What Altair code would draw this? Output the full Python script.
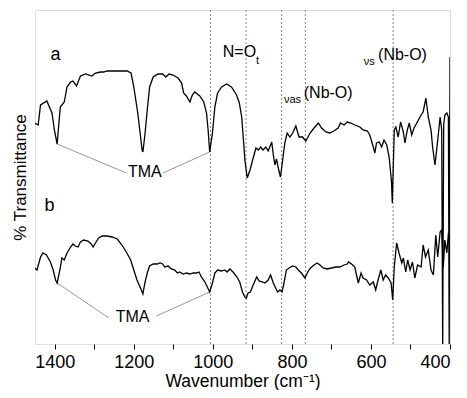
import altair as alt
import pandas as pd

# Curve a (upper spectrum): wavenumber (cm-1) and transmittance (arb. units)
a_wn = [1451, 1442, 1436, 1420, 1407, 1401, 1394, 1386, 1376, 1369, 1360, 1354, 1345, 1335, 1322,
        1306, 1297, 1284, 1276, 1268, 1217, 1207, 1200, 1190, 1179, 1177, 1172, 1166, 1160, 1151,
        1139, 1127, 1119, 1111, 1101, 1088, 1079, 1074, 1067, 1058, 1052, 1046, 1033, 1023, 1016,
        1012, 1008, 1001, 995, 988, 978, 965, 953, 940, 933, 927, 922, 919, 913, 906, 898, 891,
        885, 879, 873, 866, 860, 851, 847, 843, 839, 835, 829, 824, 818, 812, 805, 798, 790, 782,
        773, 765, 754, 742, 733, 725, 714, 704, 694, 683, 677, 668, 660, 651, 641, 628, 620, 609,
        603, 594, 590, 586, 579, 573, 567, 560, 554, 548, 546, 541, 537, 531, 525, 518, 514, 508,
        503, 497, 491, 484, 480, 473, 468, 461, 455, 448, 444, 438, 431, 425, 421, 418.5, 416, 413,
        408, 404, 402, 400]
a_t = [221, 219, 239, 243, 231, 214, 200, 237, 242, 257, 262, 263, 258, 268, 270,
       268, 271, 272, 272, 273, 273, 271, 257, 231, 194, 192, 209, 234, 257, 267,
       270, 270, 267, 270, 269, 266, 261, 251, 248, 242, 249, 252, 248, 242, 231,
       214, 192, 211, 237, 251, 257, 260, 257, 249, 241, 227, 201, 184, 166, 174, 186, 196,
       194, 197, 194, 197, 193, 202, 189, 179, 185, 177, 167, 182, 201, 211, 207, 211, 218, 207,
       207, 203, 211, 217, 221, 216, 212, 211, 213, 216, 221, 219, 222, 221, 219, 217, 214, 213,
       209, 197, 191, 201, 202, 197, 204, 199, 187, 162, 141, 214, 217, 207, 222, 212, 201, 214,
       221, 209, 216, 221, 224, 229, 232, 246, 227, 214, 197, 179, 204, 227, 214, 0, 219, 229,
       231, 227, 0, 287]

# Curve b (lower spectrum)
b_wn = [1451, 1445, 1436, 1430, 1421, 1411, 1404, 1398, 1394, 1387, 1382, 1376, 1369, 1360, 1354,
        1348, 1341, 1335, 1327, 1316, 1308, 1303, 1297, 1289, 1280, 1268, 1255, 1242, 1230, 1219,
        1208, 1200, 1192, 1183, 1177, 1172, 1166, 1160, 1151, 1141, 1134, 1127, 1122, 1113, 1105,
        1096, 1090, 1084, 1075, 1067, 1058, 1050, 1041, 1035, 1029, 1020, 1014, 1008, 1001, 995,
        988, 978, 970, 964, 957, 949, 939, 932, 925, 919, 915, 911, 905, 898, 889, 883, 874, 868,
        860, 854, 847, 841, 836, 830, 825, 820, 814, 807, 798, 790, 784, 776, 767, 760, 753, 744,
        736, 729, 721, 711, 700, 689, 679, 668, 660, 657, 649, 641, 632, 625, 620, 611, 603, 594,
        588, 582, 575, 569, 563, 556, 549, 545, 541, 535, 529, 522, 518, 512, 507, 501, 495, 489,
        482, 473, 468, 462, 455, 448, 442, 436, 431, 425, 421, 417, 413, 408, 404, 401]
b_t = [76, 74, 87, 91, 89, 82, 74, 64, 61, 74, 86, 84, 91, 97, 100,
       98, 97, 102, 104, 103, 100, 97, 101, 106, 108, 108, 107, 105, 99, 92,
       84, 74, 64, 56, 50, 61, 71, 78, 80, 80, 81, 80, 77, 78, 75,
       74, 71, 72, 70, 71, 70, 71, 71, 72, 67, 62, 57, 52, 61, 71,
       74, 73, 74, 72, 75, 72, 67, 62, 52, 47, 46, 51, 52, 59, 67, 63, 62, 61,
       64, 69, 61, 56, 52, 54, 52, 61, 74, 76, 78, 77, 74, 71, 66, 72, 76, 79,
       81, 79, 76, 75, 76, 77, 77, 79, 80, 82, 80, 77, 61, 71, 66, 64, 59, 62,
       54, 64, 74, 64, 69, 66, 61, 44, 77, 101, 91, 81, 86, 72, 84, 74, 82, 66,
       79, 77, 99, 87, 94, 74, 69, 109, 87, 112, 114, 77, 104, 91, 111, 100]

# Band positions marked by dotted lines
band_wn = [1006, 916, 826, 766, 544]

# Annotation texts
label_text = ["a", "b"]
label_wn = [1398, 1413]
label_t = [289, 138]

font = "Liberation Sans"

rows = []
for i, (w, t) in enumerate(zip(a_wn, a_t)):
    rows.append({"series": "a", "i": i, "wn": w, "t": t})
for i, (w, t) in enumerate(zip(b_wn, b_t)):
    rows.append({"series": "b", "i": i, "wn": w, "t": t})
df = pd.DataFrame(rows)

xscale = alt.Scale(domain=[1450, 400], nice=False, zero=False)
yscale = alt.Scale(domain=[0, 334], nice=False, zero=False)

xaxis = alt.Axis(
    values=list(range(400, 1500, 100)),
    labelExpr="datum.value % 200 == 0 ? datum.label : ''",
    format="d",
    title="Wavenumber (cm⁻¹)",
    titleFont=font, titleFontSize=17.5, titleFontWeight="normal", titleColor="black",
    labelFont=font, labelFontSize=18, labelColor="black",
    tickSize=5, tickColor="black", domain=False, grid=False,
    labelPadding=4, titlePadding=1,
)
yaxis = alt.Axis(
    labels=False, ticks=False, domain=False, grid=False,
    title="% Transmittance",
    titleFont=font, titleFontSize=17, titleFontWeight="normal", titleColor="black",
    titlePadding=6,
)

base = alt.Chart(df)
lines = base.mark_line(color="black", strokeWidth=1.3, clip=True).encode(
    x=alt.X("wn:Q", scale=xscale, axis=xaxis),
    y=alt.Y("t:Q", scale=yscale, axis=yaxis),
    detail="series:N",
    order="i:Q",
)

bands = alt.Chart(pd.DataFrame({"wn": band_wn})).mark_rule(
    color="#888888", strokeDash=[2, 2], strokeWidth=1
).encode(x=alt.X("wn:Q", scale=xscale))

# TMA leader lines
lead = pd.DataFrame({
    "x1": [1394, 1126, 1394, 1143],
    "y1": [200, 171, 61, 28],
    "x2": [1219, 1008, 1263, 1008],
    "y2": [171, 192, 26, 52],
})
leaders = alt.Chart(lead).mark_rule(color="#999999", strokeWidth=1).encode(
    x=alt.X("x1:Q", scale=xscale), y=alt.Y("y1:Q", scale=yscale),
    x2="x2:Q", y2="y2:Q",
)

def txt(texts, xs, ys, size, align="center"):
    d = pd.DataFrame({"text": texts, "wn": xs, "t": ys})
    return alt.Chart(d).mark_text(font=font, fontSize=size, align=align,
                                  baseline="middle", color="black").encode(
        x=alt.X("wn:Q", scale=xscale), y=alt.Y("t:Q", scale=yscale), text="text:N")

t_ab = txt(label_text, label_wn, label_t, 18)
t_tma = txt(["TMA", "TMA"], [1172, 1203], [172, 27], 16)
t_big = txt(["N=O", "(Nb-O)", "(Nb-O)"], [975, 770, 582], [292, 251, 289], 16, align="left")
t_small = txt(["t", "νas", "νs"], [891, 820, 618], [283, 244, 282], 11, align="left")

chart = alt.layer(bands, leaders, lines, t_ab, t_tma, t_big, t_small).properties(
    width=415, height=334,
    autosize=alt.AutoSizeParams(type="none"),
    padding={"left": 27, "top": 2, "right": 9, "bottom": 46},
).configure_view(stroke="black", strokeWidth=1).configure(background="white")

chart.save("out.html", embed_options={"renderer": "svg", "actions": False})
